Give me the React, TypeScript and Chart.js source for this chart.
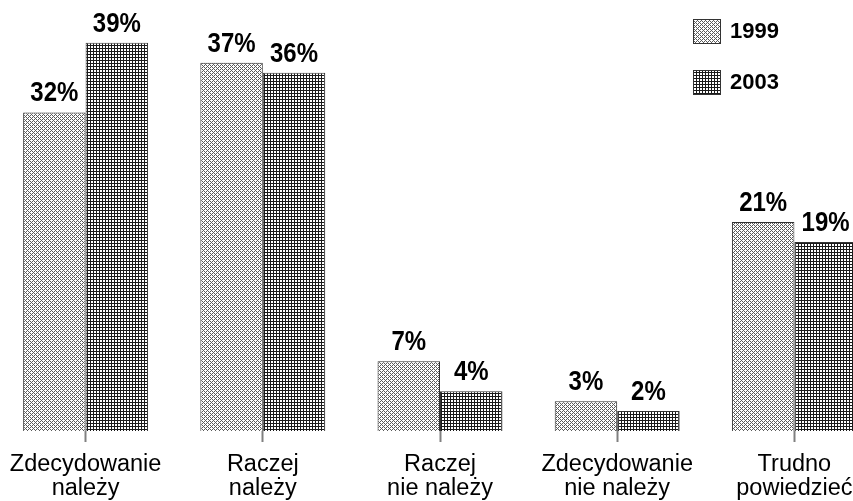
import React, { useEffect, useRef } from "react";
import { Chart, registerables } from "chart.js";

Chart.register(...registerables);

const categories: string[][] = [
  ["Zdecydowanie", "należy"],
  ["Raczej", "należy"],
  ["Raczej", "nie należy"],
  ["Zdecydowanie", "nie należy"],
  ["Trudno", "powiedzieć"],
];
const seriesNames = ["1999", "2003"];
const values1999 = [32, 37, 7, 3, 21];
const values2003 = [39, 36, 4, 2, 19];

function makePattern(kind: number): CanvasPattern | string {
  const c = document.createElement("canvas");
  const size = kind === 0 ? 4 : 3;
  c.width = size;
  c.height = size;
  const g = c.getContext("2d");
  if (!g) return "#888";
  g.fillStyle = "#ffffff";
  g.fillRect(0, 0, size, size);
  if (kind === 0) {
    g.fillStyle = "#5a5a5a";
    for (let x = 0; x < 4; x++) {
      for (let y = 0; y < 4; y++) {
        if ((x + y) % 4 === 0 || (x - y + 4) % 4 === 0) g.fillRect(x, y, 1, 1);
      }
    }
  } else {
    g.fillStyle = "#1a1a1a";
    g.fillRect(0, 0, size, 1);
    g.fillRect(0, 0, 1, size);
  }
  const p = g.createPattern(c, "repeat");
  return p || "#888";
}

export default function App() {
  const ref = useRef<HTMLCanvasElement | null>(null);

  useEffect(() => {
    const canvas = ref.current;
    if (!canvas) return;
    const p1 = makePattern(0);
    const p2 = makePattern(1);
    const fills = [p1, p2];

    const labelPlugin = {
      id: "valueLabels",
      afterDatasetsDraw(chart: any) {
        const ctx = chart.ctx;
        ctx.save();
        ctx.fillStyle = "#000";
        ctx.textAlign = "center";
        ctx.textBaseline = "alphabetic";
        chart.data.datasets.forEach((ds: any, di: number) => {
          const meta = chart.getDatasetMeta(di);
          meta.data.forEach((bar: any, i: number) => {
            ctx.save();
            ctx.translate(bar.x, bar.y - 11);
            ctx.scale(1, 1.12);
            ctx.font = "bold 24px Arial, 'Liberation Sans', sans-serif";
            ctx.fillText(ds.data[i] + "%", 0, 0);
            ctx.restore();
          });
        });
        // legend
        const xOff = 3;
        const boxes = [19, 70];
        seriesNames.forEach((name, i) => {
          const bx = 693 + xOff;
          const by = boxes[i];
          ctx.fillStyle = fills[i];
          ctx.fillRect(bx, by, 28, 25);
          ctx.strokeStyle = "#333";
          ctx.lineWidth = 1;
          ctx.strokeRect(bx + 0.5, by + 0.5, 27, 24);
          ctx.fillStyle = "#000";
          ctx.textAlign = "left";
          ctx.textBaseline = "middle";
          ctx.font = "bold 22px Arial, 'Liberation Sans', sans-serif";
          ctx.fillText(name, 730 + xOff, by + 13);
        });
        ctx.restore();
      },
    };

    const chart = new Chart(canvas, {
      type: "bar",
      data: {
        labels: categories,
        datasets: [
          {
            label: seriesNames[0],
            data: values1999,
            backgroundColor: p1 as any,
            borderColor: "#333333",
            borderWidth: 1,
            categoryPercentage: 0.705,
            barPercentage: 1,
          },
          {
            label: seriesNames[1],
            data: values2003,
            backgroundColor: p2 as any,
            borderColor: "#333333",
            borderWidth: 1,
            categoryPercentage: 0.705,
            barPercentage: 1,
          },
        ],
      },
      options: {
        responsive: false,
        animation: false,
        layout: { padding: 0 },
        plugins: {
          legend: { display: false },
          tooltip: { enabled: false },
          title: { display: false },
        },
        scales: {
          x: {
            offset: true,
            afterFit: (scale: any) => {
              scale.height = 70;
            },
            grid: {
              offset: false,
              drawOnChartArea: false,
              drawTicks: true,
              tickLength: 11,
              tickWidth: 2,
              tickColor: "#808080",
            },
            border: { display: false },
            ticks: {
              color: "#000",
              padding: 11,
              maxRotation: 0,
              autoSkip: false,
              font: {
                family: "Arial, 'Liberation Sans', sans-serif",
                size: 23.5,
                lineHeight: "24px",
              },
            },
          },
          y: {
            display: false,
            min: 0,
            max: 43.3,
          },
        },
      },
      plugins: [labelPlugin],
    });
    return () => chart.destroy();
  }, []);

  return (
    <div
      style={{
        position: "fixed",
        left: 0,
        top: 0,
        width: 853,
        height: 501,
        overflow: "hidden",
        background: "#fff",
      }}
    >
      <div style={{ position: "absolute", left: -3, top: 0, width: 886, height: 501 }}>
        <canvas ref={ref} width={886} height={501} style={{ display: "block" }} />
      </div>
    </div>
  );
}
